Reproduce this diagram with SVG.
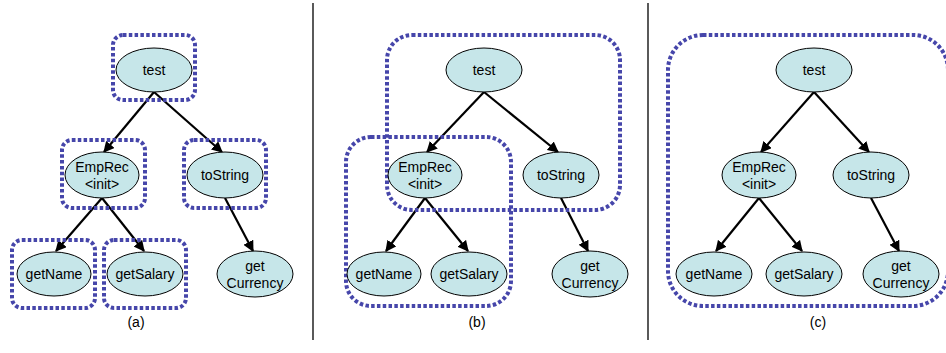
<svg xmlns="http://www.w3.org/2000/svg" width="946" height="353" viewBox="0 0 946 353">
<style>
.n{fill:#c6e6e9;stroke:#000;stroke-width:1}
.t{font-family:"Liberation Sans",Arial,sans-serif;font-size:14px;fill:#000;text-anchor:middle}
.c{font-family:"Liberation Sans",Arial,sans-serif;font-size:14px;fill:#000;text-anchor:middle}
.e{stroke:#000;stroke-width:2.2;fill:none;marker-end:url(#ah)}
.b{fill:none;stroke:#4646aa;stroke-width:4;stroke-dasharray:3.5 2.3}
.s{stroke:#000;stroke-width:1.3}
</style>
<defs>
<marker id="ah" viewBox="0 0 10 10" refX="9" refY="5" markerWidth="5" markerHeight="5" orient="auto" markerUnits="strokeWidth">
<path d="M0,0 L10,5 L0,10 Z" fill="#000"/>
</marker>
</defs>
<rect width="946" height="353" fill="#fff"/>
<g id="separators">
<line class="s" x1="313" y1="3" x2="313" y2="340"/>
<line class="s" x1="648" y1="3" x2="648" y2="340"/>
</g>
<g id="connectors">
<line class="e" x1="154" y1="92" x2="104" y2="152"/>
<line class="e" x1="154" y1="92" x2="222" y2="152"/>
<line class="e" x1="102" y1="198" x2="56" y2="251"/>
<line class="e" x1="102" y1="198" x2="144" y2="251"/>
<line class="e" x1="225" y1="198" x2="253" y2="251"/>
<line class="e" x1="484" y1="92" x2="427" y2="152"/>
<line class="e" x1="484" y1="92" x2="558" y2="152"/>
<line class="e" x1="425" y1="198" x2="386" y2="251"/>
<line class="e" x1="425" y1="198" x2="468" y2="251"/>
<line class="e" x1="561" y1="198" x2="588" y2="251"/>
<line class="e" x1="814" y1="92" x2="761" y2="152"/>
<line class="e" x1="814" y1="92" x2="869" y2="152"/>
<line class="e" x1="759" y1="198" x2="716" y2="251"/>
<line class="e" x1="759" y1="198" x2="802" y2="251"/>
<line class="e" x1="871" y1="198" x2="899" y2="251"/>
</g>
<g id="groups">
<rect class="b" x="113" y="35" width="82" height="65" rx="10"/>
<rect class="b" x="62" y="140" width="83" height="68" rx="10"/>
<rect class="b" x="184" y="140" width="82" height="68" rx="10"/>
<rect class="b" x="12" y="240" width="83" height="68" rx="10"/>
<rect class="b" x="104" y="240" width="82" height="68" rx="10"/>
<rect class="b" x="387" y="35" width="233" height="175" rx="25"/>
<rect class="b" x="346" y="137" width="165" height="169" rx="25"/>
<rect class="b" x="668" y="35" width="280" height="271" rx="35"/>
</g>
<g id="a-test"><ellipse class="n" cx="154" cy="70" rx="38" ry="22"/><text class="t" x="154" y="75">test</text></g>
<g id="a-emprec"><ellipse class="n" cx="102" cy="175" rx="37" ry="23"/><text class="t" x="102" y="172">EmpRec</text><text class="t" x="102" y="189">&lt;init&gt;</text></g>
<g id="a-tostring"><ellipse class="n" cx="225" cy="175" rx="38" ry="23"/><text class="t" x="225" y="180">toString</text></g>
<g id="a-getname"><ellipse class="n" cx="54" cy="274" rx="37" ry="22"/><text class="t" x="54" y="279">getName</text></g>
<g id="a-getsalary"><ellipse class="n" cx="145" cy="274" rx="38" ry="22"/><text class="t" x="145" y="279">getSalary</text></g>
<g id="a-getcurrency"><ellipse class="n" cx="255" cy="274" rx="38" ry="23"/><text class="t" x="255" y="271">get</text><text class="t" x="255" y="288">Currency</text></g>
<g id="b-test"><ellipse class="n" cx="484" cy="70" rx="38" ry="22"/><text class="t" x="484" y="75">test</text></g>
<g id="b-emprec"><ellipse class="n" cx="425" cy="175" rx="37" ry="23"/><text class="t" x="425" y="172">EmpRec</text><text class="t" x="425" y="189">&lt;init&gt;</text></g>
<g id="b-tostring"><ellipse class="n" cx="561" cy="175" rx="38" ry="23"/><text class="t" x="561" y="180">toString</text></g>
<g id="b-getname"><ellipse class="n" cx="384" cy="274" rx="37" ry="22"/><text class="t" x="384" y="279">getName</text></g>
<g id="b-getsalary"><ellipse class="n" cx="469" cy="274" rx="38" ry="22"/><text class="t" x="469" y="279">getSalary</text></g>
<g id="b-getcurrency"><ellipse class="n" cx="590" cy="274" rx="38" ry="23"/><text class="t" x="590" y="271">get</text><text class="t" x="590" y="288">Currency</text></g>
<g id="c-test"><ellipse class="n" cx="814" cy="70" rx="38" ry="22"/><text class="t" x="814" y="75">test</text></g>
<g id="c-emprec"><ellipse class="n" cx="759" cy="175" rx="37" ry="23"/><text class="t" x="759" y="172">EmpRec</text><text class="t" x="759" y="189">&lt;init&gt;</text></g>
<g id="c-tostring"><ellipse class="n" cx="871" cy="175" rx="38" ry="23"/><text class="t" x="871" y="180">toString</text></g>
<g id="c-getname"><ellipse class="n" cx="714" cy="274" rx="38" ry="22"/><text class="t" x="714" y="279">getName</text></g>
<g id="c-getsalary"><ellipse class="n" cx="804" cy="274" rx="38" ry="22"/><text class="t" x="804" y="279">getSalary</text></g>
<g id="c-getcurrency"><ellipse class="n" cx="901" cy="274" rx="38" ry="23"/><text class="t" x="901" y="271">get</text><text class="t" x="901" y="288">Currency</text></g>
<g id="captions">
<text class="c" x="136" y="327">(a)</text>
<text class="c" x="477" y="327">(b)</text>
<text class="c" x="818" y="327">(c)</text>
</g>
</svg>
